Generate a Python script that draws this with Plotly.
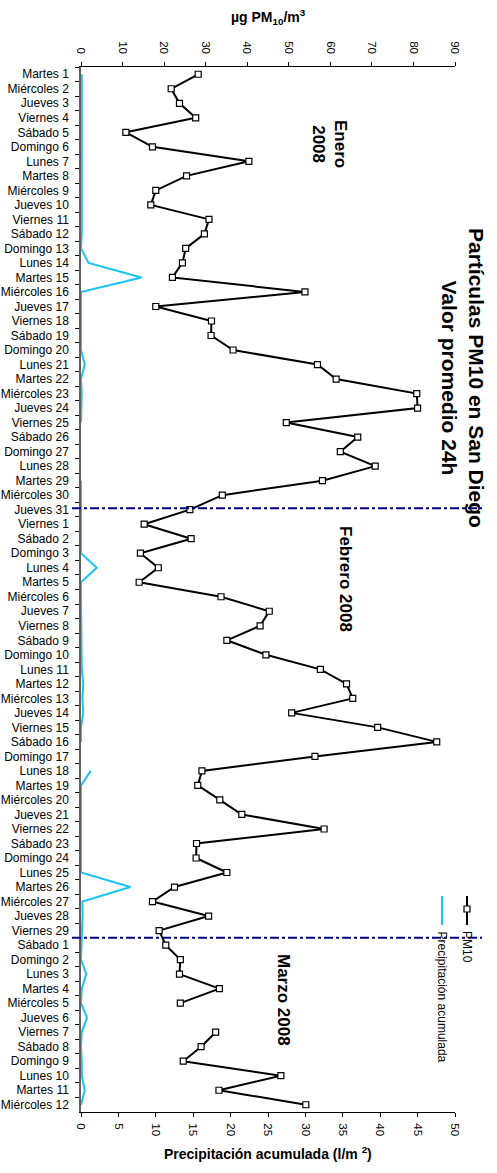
import plotly.graph_objects as go

# ---------------- data ----------------
jan_labels = ["Martes 1", "Miércoles 2", "Jueves 3", "Viernes 4", "Sábado 5", "Domingo 6",
              "Lunes 7", "Martes 8", "Miércoles 9", "Jueves 10", "Viernes 11", "Sábado 12",
              "Domingo 13", "Lunes 14", "Martes 15", "Miércoles 16", "Jueves 17", "Viernes 18",
              "Sábado 19", "Domingo 20", "Lunes 21", "Martes 22", "Miércoles 23", "Jueves 24",
              "Viernes 25", "Sábado 26", "Domingo 27", "Lunes 28", "Martes 29", "Miércoles 30",
              "Jueves 31"]
feb_labels = ["Viernes 1", "Sábado 2", "Domingo 3", "Lunes 4", "Martes 5", "Miércoles 6",
              "Jueves 7", "Viernes 8", "Sábado 9", "Domingo 10", "Lunes 11", "Martes 12",
              "Miércoles 13", "Jueves 14", "Viernes 15", "Sábado 16", "Domingo 17", "Lunes 18",
              "Martes 19", "Miércoles 20", "Jueves 21", "Viernes 22", "Sábado 23", "Domingo 24",
              "Lunes 25", "Martes 26", "Miércoles 27", "Jueves 28", "Viernes 29"]
mar_labels = ["Sábado 1", "Domingo 2", "Lunes 3", "Martes 4", "Miércoles 5", "Jueves 6",
              "Viernes 7", "Sábado 8", "Domingo 9", "Lunes 10", "Martes 11", "Miércoles 12"]

pm10_jan = [28.2, 21.7, 23.7, 27.6, 10.8, 17.2, 40.4, 25.4, 18.0, 16.8, 30.8, 29.7, 25.2,
            24.4, 22.0, 53.9, 18.0, 31.4, 31.3, 36.6, 56.9, 61.4, 80.8, 81.0, 49.4, 66.6,
            62.4, 70.8, 58.1, 34.0, 26.2]
pm10_feb = [15.2, 26.5, 14.3, 18.6, 14.0, 33.7, 45.3, 43.1, 35.1, 44.5, 57.6, 63.9, 65.4,
            50.7, 71.4, 85.6, 56.3, 29.1, 28.1, 33.4, 38.7, 58.5, 27.8, 27.7, 35.1, 22.5,
            17.2, 30.7, 18.8]
pm10_mar = [20.4, 23.9, 23.7, 33.3, 23.9, None, 32.4, 28.9, 24.6, 48.1, 33.2, 54.1]

rain_jan = [0.1, 0.1, 0.1, 0.1, 0.1, 0.1, 0.2, 0.1, 0.1, 0.1, 0.1, 0.1, 0.0, 1.0, 8.1, 0.0,
            0.0, 0.0, 0.0, 0.0, 0.5, 0.0, 0.1, 0.0, 0.0, None, None, None, 0.0, 0.0, 0.1]
rain_feb = [0.1, 0.1, 0.0, 2.1, 0.0, 0.0, 0.0, 0.0, 0.0, 0.0, 0.1, 0.3, 0.2, 0.3, 0.0, 0.0,
            None, 1.3, 0.0, 0.0, 0.0, 0.0, 0.0, 0.0, 0.0, 6.6, 0.2, 0.2, 0.1]
rain_mar = [0.1, 0.0, 0.7, 0.1, 0.0, 0.8, 0.1, 0.0, 0.1, 0.1, 0.5, 0.0]

pm10_ticks = [0, 10, 20, 30, 40, 50, 60, 70, 80, 90]
rain_ticks = [0, 5, 10, 15, 20, 25, 30, 35, 40, 45, 50]

days = jan_labels + feb_labels + mar_labels
pm10 = pm10_jan + pm10_feb + pm10_mar
rain = rain_jan + rain_feb + rain_mar

# ---------------- geometry (page pixels) ----------------
W, H = 497, 1173
PLOT_L, PLOT_R, PLOT_T, PLOT_B = 81, 455, 67, 1112   # plot area in page pixels
L, T = PLOT_L, PLOT_T
R, B = W - PLOT_R, H - PLOT_B
PW, PH = PLOT_R - PLOT_L, PLOT_B - PLOT_T

def px_x(p):
    return (p - PLOT_L) / PW

def px_y(p):
    return (PLOT_B - p) / PH

FONT = "Liberation Sans, Arial, sans-serif"
CYAN = "#19c3f5"
NAVY = "#000080"

fig = go.Figure()

fig.add_trace(go.Scatter(
    x=rain, y=days, xaxis="x2", yaxis="y", mode="lines",
    line=dict(color=CYAN, width=2), name="Precipitación acumulada",
    connectgaps=False, showlegend=False))

fig.add_trace(go.Scatter(
    x=pm10, y=days, xaxis="x", yaxis="y", mode="lines+markers",
    line=dict(color="black", width=2),
    marker=dict(symbol="square", size=6, color="white",
                line=dict(color="black", width=1.2)),
    name="PM10", connectgaps=False, showlegend=False))

# month separators (at the month boundaries)
n_jan = len(jan_labels)
n_feb = len(feb_labels)
for yv in [n_jan - 1 - 0.1, n_jan + n_feb - 0.5]:
    fig.add_shape(type="line", xref="paper", yref="y",
                  x0=px_x(72), x1=px_x(482), y0=yv, y1=yv,
                  line=dict(color=NAVY, width=2, dash="dashdot"))

fig.update_layout(
    width=W, height=H,
    margin=dict(l=L, r=R, t=T, b=B, autoexpand=False),
    paper_bgcolor="white", plot_bgcolor="white",
    font=dict(family=FONT, size=12, color="black"),
    showlegend=False,
    xaxis=dict(side="top", range=[0, 90], tickvals=pm10_ticks, tickangle=90,
               showgrid=False, zeroline=False, showline=True, linecolor="black",
               linewidth=1, ticks="outside", ticklen=4, tickcolor="black",
               tickfont=dict(size=11.5), ticklabelstandoff=4, anchor="y"),
    xaxis2=dict(side="bottom", range=[0, 50], tickvals=rain_ticks, tickangle=90,
                overlaying="x", anchor="y",
                showgrid=False, zeroline=False, showline=True, linecolor="black",
                linewidth=1, ticks="outside", ticklen=4, tickcolor="black",
                tickfont=dict(size=11.5), ticklabelstandoff=4),
    xaxis3=dict(side="top", range=[0, 90], tickvals=pm10_ticks, overlaying="x",
                anchor="y", showticklabels=False, showgrid=False, zeroline=False,
                showline=False, ticks="inside", ticklen=4, tickcolor="black"),
    xaxis4=dict(side="bottom", range=[0, 50], tickvals=rain_ticks, overlaying="x",
                anchor="y", showticklabels=False, showgrid=False, zeroline=False,
                showline=False, ticks="inside", ticklen=4, tickcolor="black"),
    yaxis=dict(type="category", categoryorder="array", categoryarray=days,
               range=[len(days) - 0.5, -0.5], tickson="boundaries",
               showgrid=False, zeroline=False, showline=True, linecolor="#606060",
               linewidth=1.5, ticks="outside", ticklen=4, tickcolor="black",
               tickfont=dict(size=12), ticklabelstandoff=8, layer="below traces",
               anchor="x"),
    yaxis2=dict(type="linear", range=[len(days) - 0.5, -0.5], tick0=0.5, dtick=1,
                overlaying="y", side="left", anchor="x", showticklabels=False,
                showgrid=False, zeroline=False, showline=False,
                ticks="inside", ticklen=4, tickcolor="black"),
)

ann = []
# axis titles
ann.append(dict(text="µg PM<sub>10</sub>/m<sup>3</sup>", x=0.5, y=px_y(17),
                xref="paper", yref="paper", showarrow=False,
                font=dict(size=14, family=FONT, weight="bold"),
                xanchor="center", yanchor="middle"))
ann.append(dict(text="Precipitación acumulada (l/m <sup>2</sup>)", x=0.5, y=px_y(1153),
                xref="paper", yref="paper", showarrow=False,
                font=dict(size=14, family=FONT, weight="bold"),
                xanchor="center", yanchor="middle"))
# chart title (rotated)
ann.append(dict(text="Partículas PM10 en San Diego<br>Valor promedio 24h",
                x=px_x(463), y=px_y(378), xref="paper", yref="paper", showarrow=False,
                textangle=90, font=dict(size=21, family=FONT, weight="bold"),
                xanchor="center", yanchor="middle"))
# month labels
ann.append(dict(text="Enero<br>2008", x=px_x(330), y=px_y(144), xref="paper", yref="paper",
                showarrow=False, textangle=90,
                font=dict(size=17, family=FONT, weight="bold"),
                xanchor="center", yanchor="middle"))
ann.append(dict(text="Febrero 2008", x=px_x(346), y=px_y(579), xref="paper", yref="paper",
                showarrow=False, textangle=90,
                font=dict(size=17, family=FONT, weight="bold"),
                xanchor="center", yanchor="middle"))
ann.append(dict(text="Marzo 2008", x=px_x(284), y=px_y(1000), xref="paper", yref="paper",
                showarrow=False, textangle=90,
                font=dict(size=17, family=FONT, weight="bold"),
                xanchor="center", yanchor="middle"))
# legend (rotated)
ann.append(dict(text="PM10", x=px_x(467), y=px_y(929), xref="paper", yref="paper",
                showarrow=False, textangle=90, font=dict(size=12, family=FONT),
                xanchor="center", yanchor="top"))
ann.append(dict(text="Precipitación acumulada", x=px_x(442), y=px_y(929),
                xref="paper", yref="paper", showarrow=False, textangle=90,
                font=dict(size=12, family=FONT), xanchor="center", yanchor="top"))
fig.update_layout(annotations=ann)

# legend samples
fig.add_shape(type="line", xref="paper", yref="paper",
              x0=px_x(467), x1=px_x(467), y0=px_y(896), y1=px_y(925),
              line=dict(color="black", width=2))
fig.add_shape(type="rect", xref="paper", yref="paper",
              x0=px_x(464), x1=px_x(470), y0=px_y(906), y1=px_y(912),
              line=dict(color="black", width=1.2), fillcolor="white")
fig.add_shape(type="line", xref="paper", yref="paper",
              x0=px_x(442), x1=px_x(442), y0=px_y(896), y1=px_y(925),
              line=dict(color=CYAN, width=2))

fig.write_html("out.html",
               config={"displayModeBar": False},
               post_script="document.body.style.margin='0';"
                           "document.body.style.overflow='hidden';")
